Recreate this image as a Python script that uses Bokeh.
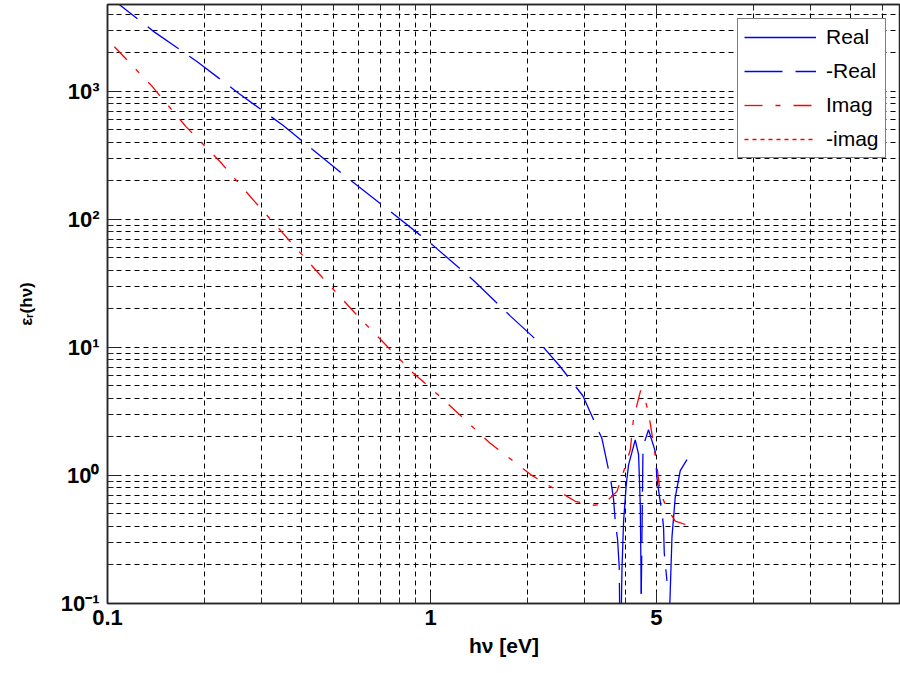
from bokeh.plotting import figure
from bokeh.models import (Range1d, FixedTicker, LogAxis, CustomJSTickFormatter,
                          Legend, LegendItem, ColumnDataSource)
from bokeh.embed import file_html
from bokeh.resources import INLINE

nan = float("nan")

# Real part of the permittivity, split by sign (NaN separates branches)
re_neg_e = [0.1, 0.1395, 0.1896, 0.2557, 0.35, 0.551, 0.750, 1.014, 1.359, 1.765,
            2.186, 2.508, 2.964, 3.394, 3.619, 3.687, 3.731, 3.793, 3.839, 3.867,
            nan, 4.491, 4.547, 4.729, 4.962, 5.023, 5.117, 5.205, 5.265, 5.291, 5.393]
re_neg_v = [5600, 2904, 1697, 956, 539, 212, 115.4, 63.1, 33.3, 17.6,
            10.7, 7.18, 4.17, 1.94, 0.898, 0.647, 0.439, 0.316, 0.19, 0.03,
            nan, 0.119, 1.68, 2.27, 1.54, 0.953, 0.674, 0.525, 0.389, 0.249, 0.150]

re_pos_e = [3.867, 3.914, 3.959, 4.036, 4.102, 4.302, 4.406, 4.459, 4.491,
            nan, 5.47, 5.59, 5.72, 5.93, 6.22]
re_pos_v = [0.03, 0.185, 0.439, 0.847, 1.21, 1.896, 1.457, 0.594, 0.119,
            nan, 0.06, 0.33, 0.67, 1.09, 1.33]

# Imaginary part (positive over the whole range; the negative branch has no points)
im_pos_e = [0.105, 0.1366, 0.1749, 0.2233, 0.2851, 0.3678, 0.4611, 0.5986, 0.8757,
            1.085, 1.530, 2.060, 2.805, 3.160, 3.432, 3.777, 4.007, 4.153, 4.251,
            4.355, 4.469, 4.565, 4.677, 4.788, 5.023, 5.142, 5.393, 5.722, 6.219]
im_pos_v = [2220, 1109, 529, 281, 138, 67.1, 35.4, 17.3, 6.45,
            4.0, 1.78, 1.0, 0.628, 0.584, 0.595, 0.751, 1.175, 1.585, 2.79,
            3.55, 4.59, 4.37, 3.44, 2.55, 1.175, 0.728, 0.557, 0.44, 0.41]
im_neg_e = [nan]
im_neg_v = [nan]

# Axis ticks
x_major = [0.1, 1, 5]
x_minor = [0.2, 0.3, 0.4, 0.5, 0.6, 0.7, 0.8, 0.9, 2, 3, 4, 10, 15, 20, 25]
y_major = [0.1, 1, 10, 100, 1000]
y_minor = [0.2, 0.3, 0.4, 0.5, 0.6, 0.7, 0.8, 0.9,
           2, 3, 4, 5, 6, 7, 8, 9,
           20, 30, 40, 50, 60, 70, 80, 90,
           200, 300, 400, 500, 600, 700, 800, 900,
           2000, 3000, 4000]

FONT = "Liberation Sans"
AX = "#262626"

p = figure(width=900, height=673, x_axis_type="log", y_axis_type="log",
           x_range=Range1d(0.1, 28.5), y_range=Range1d(0.1, 4750),
           output_backend="svg", toolbar_location=None,
           min_border_left=107, min_border_right=0, min_border_top=4,
           min_border_bottom=70, background_fill_color="white",
           border_fill_color="white")
p.outline_line_color = AX
p.outline_line_width = 1.5

# grid: dashed black at every major and minor tick
for g in (p.xgrid, p.ygrid):
    g.grid_line_color = "black"
    g.grid_line_dash = "5 4"
    g.grid_line_width = 1
    g.minor_grid_line_color = "black"
    g.minor_grid_line_dash = "5 4"
    g.minor_grid_line_width = 1

xt = FixedTicker(ticks=x_major, minor_ticks=x_minor)
yt = FixedTicker(ticks=y_major, minor_ticks=y_minor)

p.xaxis.ticker = xt
p.yaxis.ticker = yt
p.xaxis.formatter = CustomJSTickFormatter(code="return String(tick);")
p.yaxis.formatter = CustomJSTickFormatter(code="""
const sup = {"-": "\u207b", "0": "\u2070", "1": "\u00b9", "2": "\u00b2", "3": "\u00b3",
             "4": "\u2074", "5": "\u2075", "6": "\u2076", "7": "\u2077", "8": "\u2078", "9": "\u2079"};
const e = Math.round(Math.log10(tick));
return "10" + String(e).split("").map(c => sup[c]).join("");
""")

for ax in (p.xaxis[0], p.yaxis[0]):
    ax.axis_line_color = AX
    ax.axis_line_width = 1.5
    ax.major_tick_line_color = AX
    ax.minor_tick_line_color = AX
    ax.major_tick_in = 12
    ax.major_tick_out = 0
    ax.minor_tick_in = 6
    ax.minor_tick_out = 0
    ax.major_label_text_font = FONT
    ax.major_label_text_font_style = "bold"
    ax.major_label_text_font_size = "22px"
    ax.major_label_text_color = "black"
    ax.axis_label_text_font = FONT
    ax.axis_label_text_font_style = "bold"
    ax.axis_label_text_color = "black"

p.xaxis.major_label_standoff = 6
p.xaxis.axis_label = "hν [eV]"
p.xaxis.axis_label_text_font_size = "21px"
p.xaxis.axis_label_standoff = 6

p.yaxis.major_label_standoff = 8
p.yaxis.axis_label = "εᵣ(hν)"
p.yaxis.axis_label_text_font_size = "17px"
p.yaxis.axis_label_standoff = 22

# top edge ticks (box style)
top = LogAxis(ticker=FixedTicker(ticks=x_major, minor_ticks=x_minor),
              formatter=CustomJSTickFormatter(code="return '';"),
              axis_line_color=AX, axis_line_width=1.5,
              major_tick_line_color=AX, minor_tick_line_color=AX,
              major_tick_in=12, major_tick_out=0, minor_tick_in=6, minor_tick_out=0,
              major_label_standoff=0, major_label_text_font_size="0px")
p.add_layout(top, "above")

src_re_pos = ColumnDataSource(dict(e=re_pos_e, v=re_pos_v))
src_re_neg = ColumnDataSource(dict(e=re_neg_e, v=re_neg_v))
src_im_pos = ColumnDataSource(dict(e=im_pos_e, v=im_pos_v))
src_im_neg = ColumnDataSource(dict(e=im_neg_e, v=im_neg_v))

BLUE = "#0000ff"
RED = "#ff0000"
r1 = p.line("e", "v", source=src_re_pos, line_color=BLUE, line_width=1.3)
r2 = p.line("e", "v", source=src_re_neg, line_color=BLUE, line_width=1.3,
            line_dash="38 13")
r3 = p.line("e", "v", source=src_im_pos, line_color=RED, line_width=1.3,
            line_dash="18 13 5 13")
r4 = p.line("e", "v", source=src_im_neg, line_color=RED, line_width=1.3,
            line_dash="4 4")

legend = Legend(items=[LegendItem(label="Real", renderers=[r1]),
                       LegendItem(label="-Real", renderers=[r2]),
                       LegendItem(label="Imag", renderers=[r3]),
                       LegendItem(label="-imag", renderers=[r4])],
                location=(630, 445), orientation="vertical")
legend.border_line_color = "black"
legend.border_line_width = 1
legend.background_fill_color = "white"
legend.background_fill_alpha = 1.0
legend.label_text_font = FONT
legend.label_text_font_size = "21px"
legend.label_text_color = "black"
legend.glyph_width = 72
legend.glyph_height = 20
legend.label_height = 20
legend.label_standoff = 10
legend.padding = 6
legend.spacing = 10
legend.margin = 0
p.add_layout(legend)

open("out.html", "w").write(file_html(p, INLINE))
